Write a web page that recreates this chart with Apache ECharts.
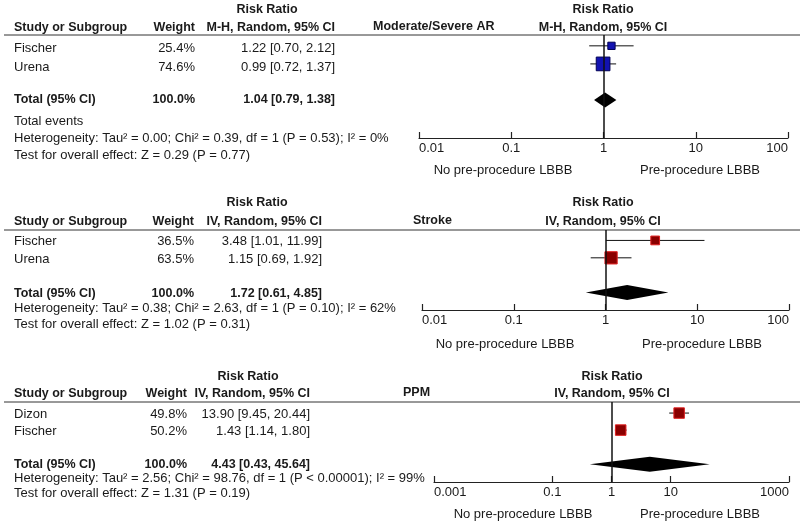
<!DOCTYPE html>
<html><head><meta charset="utf-8">
<script src="https://cdn.jsdelivr.net/npm/echarts@6/dist/echarts.min.js"></script>
<style>html,body{margin:0;padding:0;background:#fff}#c{width:800px;height:525px}</style>
</head><body><div id="c"></div>
<script>
// ---------- Panel 1: Moderate/Severe AR ----------
const outcome1 = 'Moderate/Severe AR';
const method1 = 'M-H, Random, 95% CI';
const studies1 = ['Fischer', 'Urena'];
const weights1 = [25.4, 74.6];
const rr1 = [1.22, 0.99];
const lo1 = [0.70, 0.72];
const hi1 = [2.12, 1.37];
const total1 = [1.04, 0.79, 1.38];
const notes1 = ['Total events',
  'Heterogeneity: Tau\u00B2 = 0.00; Chi\u00B2 = 0.39, df = 1 (P = 0.53); I\u00B2 = 0%',
  'Test for overall effect: Z = 0.29 (P = 0.77)'];
const ticks1 = [0.01, 0.1, 1, 10, 100];

// ---------- Panel 2: Stroke ----------
const outcome2 = 'Stroke';
const method2 = 'IV, Random, 95% CI';
const studies2 = ['Fischer', 'Urena'];
const weights2 = [36.5, 63.5];
const rr2 = [3.48, 1.15];
const lo2 = [1.01, 0.69];
const hi2 = [11.99, 1.92];
const total2 = [1.72, 0.61, 4.85];
const notes2 = [
  'Heterogeneity: Tau\u00B2 = 0.38; Chi\u00B2 = 2.63, df = 1 (P = 0.10); I\u00B2 = 62%',
  'Test for overall effect: Z = 1.02 (P = 0.31)'];
const ticks2 = [0.01, 0.1, 1, 10, 100];

// ---------- Panel 3: PPM ----------
const outcome3 = 'PPM';
const method3 = 'IV, Random, 95% CI';
const studies3 = ['Dizon', 'Fischer'];
const weights3 = [49.8, 50.2];
const rr3 = [13.90, 1.43];
const lo3 = [9.45, 1.14];
const hi3 = [20.44, 1.80];
const total3 = [4.43, 0.43, 45.64];
const notes3 = [
  'Heterogeneity: Tau\u00B2 = 2.56; Chi\u00B2 = 98.76, df = 1 (P < 0.00001); I\u00B2 = 99%',
  'Test for overall effect: Z = 1.31 (P = 0.19)'];
const ticks3 = [0.001, 0.1, 1, 10, 1000];

const favourLeft = 'No pre-procedure LBBB';
const favourRight = 'Pre-procedure LBBB';
const colHead = ['Study or Subgroup', 'Weight', 'Risk Ratio'];
const totalLabel = 'Total (95% CI)';
const totalWeight = '100.0%';

// ---------- layout (pixels) ----------
const layouts = [
  { grid: {left: 419, right: 12, top: 35, height: 103}, ymin: -0.6, ymax: 5.1, fill: '#1212b0', border: '#000055',
    line: 35, rrHead: 10, head: 28, rows: [48, 67], totalY: 100, notesY: [121, 138, 155], wR: 195, ciR: 335, rrC: 267,
    outX: 373, rightC: 603, favY: 170, favL: 503, favR: 700 },
  { grid: {left: 422, right: 11, top: 230, height: 80}, ymin: -0.6, ymax: 4.0, fill: '#8a0000', border: '#e02020',
    line: 230, rrHead: 203, head: 222, rows: [241, 259], totalY: 294, notesY: [308, 324], wR: 194, ciR: 322, rrC: 257,
    outX: 413, rightC: 603, favY: 344, favL: 505, favR: 702 },
  { grid: {left: 434, right: 11, top: 402, height: 80}, ymin: -0.65, ymax: 4.05, fill: '#8a0000', border: '#e02020',
    line: 402, rrHead: 377, head: 394, rows: [414, 431], totalY: 465, notesY: [478, 493], wR: 187, ciR: 310, rrC: 248,
    outX: 403, rightC: 612, favY: 514, favL: 523, favR: 700 }
];

const panels = [
  {outcome: outcome1, method: method1, studies: studies1, w: weights1, rr: rr1, lo: lo1, hi: hi1, tot: total1, notes: notes1, ticks: ticks1},
  {outcome: outcome2, method: method2, studies: studies2, w: weights2, rr: rr2, lo: lo2, hi: hi2, tot: total2, notes: notes2, ticks: ticks2},
  {outcome: outcome3, method: method3, studies: studies3, w: weights3, rr: rr3, lo: lo3, hi: hi3, tot: total3, notes: notes3, ticks: ticks3}
];

const FONT = '"Liberation Sans", Arial, sans-serif';
const TXT = '#1a1a1a';
const f = (v) => v.toFixed(2);
const ciText = (r, l, h) => f(r) + ' [' + f(l) + ', ' + f(h) + ']';

const grids = [], xAxes = [], yAxes = [], series = [], graphic = [];

function txt(x, y, text, opt) {
  opt = opt || {};
  graphic.push({ type: 'text', x: x, y: y, silent: true,
    style: { text: text, fill: TXT, font: (opt.bold ? 'bold 12.5px ' : '13px ') + FONT,
      align: opt.align || 'left', verticalAlign: 'middle' } });
}

panels.forEach((p, i) => {
  const L = layouts[i];
  grids.push(Object.assign({}, L.grid));
  xAxes.push({
    type: 'log', logBase: 10, gridIndex: i, min: p.ticks[0], max: p.ticks[p.ticks.length - 1],
    position: 'bottom',
    axisLine: { onZero: false, lineStyle: { color: '#222', width: 1.2 } },
    axisTick: { inside: true, length: 6, lineStyle: { color: '#222', width: 1.2 }, customValues: p.ticks },
    axisLabel: { color: TXT, fontSize: 13, fontFamily: FONT, margin: 4, customValues: p.ticks,
      alignMinLabel: 'left', alignMaxLabel: 'right', formatter: (v) => String(+v) },
    splitLine: { show: false }
  });
  yAxes.push({ type: 'value', gridIndex: i, inverse: true, min: L.ymin, max: L.ymax, show: false });

  const rowsIdx = p.studies.map((s, k) => k);
  // CI lines
  series.push({
    type: 'custom', xAxisIndex: i, yAxisIndex: i, silent: true, z: 2,
    encode: { x: [0, 1], y: 2 },
    data: rowsIdx.map(k => [p.lo[k], p.hi[k], k]),
    renderItem: (params, api) => {
      const a = api.coord([api.value(0), api.value(2)]);
      const b = api.coord([api.value(1), api.value(2)]);
      return { type: 'line', shape: { x1: a[0], y1: a[1], x2: b[0], y2: b[1] },
        style: { stroke: '#111', lineWidth: 1 } };
    },
    markLine: { silent: true, symbol: 'none', label: { show: false },
      lineStyle: { color: '#111', width: 1.5, type: 'solid' }, data: [{ xAxis: 1 }] }
  });
  // squares
  series.push({
    type: 'scatter', xAxisIndex: i, yAxisIndex: i, silent: true, z: 3, symbol: 'rect',
    symbolSize: (v) => 4 + 0.13 * v[2],
    itemStyle: { color: L.fill, borderColor: L.border, borderWidth: 1, opacity: 1 },
    data: rowsIdx.map(k => [p.rr[k], k, p.w[k]])
  });
  // diamond
  series.push({
    type: 'custom', xAxisIndex: i, yAxisIndex: i, silent: true, z: 3,
    encode: { x: [0, 1, 2], y: 3 },
    data: [[p.tot[0], p.tot[1], p.tot[2], 3]],
    renderItem: (params, api) => {
      const c = api.coord([api.value(0), api.value(3)]);
      const l = api.coord([api.value(1), api.value(3)]);
      const r = api.coord([api.value(2), api.value(3)]);
      const h = 7.5;
      return { type: 'polygon', shape: { points: [[l[0], c[1]], [c[0], c[1] - h], [r[0], c[1]], [c[0], c[1] + h]] },
        style: { fill: '#000' } };
    }
  });

  // header line
  graphic.push({ type: 'line', silent: true, shape: { x1: 4, y1: L.line, x2: 800, y2: L.line },
    style: { stroke: '#333', lineWidth: 1 } });
  // left table header
  txt(L.rrC, L.rrHead, colHead[2], { bold: true, align: 'center' });
  txt(14, L.head, colHead[0], { bold: true });
  txt(L.wR, L.head, colHead[1], { bold: true, align: 'right' });
  txt(L.ciR, L.head, p.method, { bold: true, align: 'right' });
  // right header
  txt(L.outX, L.head - 1, p.outcome, { bold: true });
  txt(L.rightC, L.rrHead, colHead[2], { bold: true, align: 'center' });
  txt(L.rightC, L.head, p.method, { bold: true, align: 'center' });
  // study rows
  p.studies.forEach((s, k) => {
    txt(14, L.rows[k], s);
    txt(L.wR, L.rows[k], p.w[k].toFixed(1) + '%', { align: 'right' });
    txt(L.ciR, L.rows[k], ciText(p.rr[k], p.lo[k], p.hi[k]), { align: 'right' });
  });
  // total
  txt(14, L.totalY, totalLabel, { bold: true });
  txt(L.wR, L.totalY, totalWeight, { bold: true, align: 'right' });
  txt(L.ciR, L.totalY, ciText(p.tot[0], p.tot[1], p.tot[2]), { bold: true, align: 'right' });
  p.notes.forEach((n, k) => txt(14, L.notesY[k], n));
  // favours labels
  txt(L.favL, L.favY, favourLeft, { align: 'center' });
  txt(L.favR, L.favY, favourRight, { align: 'center' });
});

const chart = echarts.init(document.getElementById('c'), null, { renderer: 'canvas' });
chart.setOption({
  animation: false,
  backgroundColor: '#fff',
  grid: grids, xAxis: xAxes, yAxis: yAxes, series: series, graphic: graphic
});
</script></body></html>
